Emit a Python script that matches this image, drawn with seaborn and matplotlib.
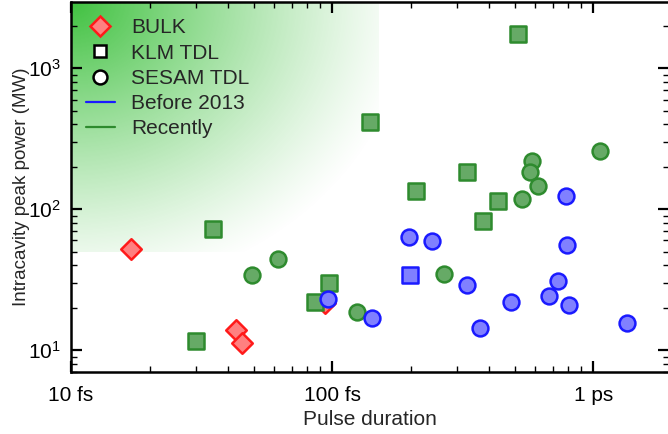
import numpy as np
import pandas as pd
import matplotlib
matplotlib.use("Agg")
import matplotlib.pyplot as plt
import seaborn as sns
from matplotlib.lines import Line2D
from matplotlib.ticker import FixedLocator, FixedFormatter, LogLocator, NullFormatter

# pulse duration (fs) / intracavity peak power (MW)
bulk_fs = [17.0, 42.9, 45.2, 94]
bulk_mw = [52, 13.9, 11.2, 21.5]

klm_recent_fs = [30.1, 35.0, 86, 97.5, 140, 210, 329, 433, 379, 516]
klm_recent_mw = [11.6, 72, 21.9, 29.9, 414, 134, 183, 114, 82, 1742]
klm_old_fs = [199]
klm_old_mw = [34]

sesam_recent_fs = [49.4, 62, 125, 268, 535, 584, 574, 615, 1064]
sesam_recent_mw = [34, 44, 18.6, 34.6, 118, 219, 183, 146, 258]
sesam_old_fs = [96.6, 142, 197, 241, 329, 369, 485, 678, 735, 794, 809, 788, 1349]
sesam_old_mw = [23, 16.9, 63, 59, 28.9, 14.3, 21.9, 24.2, 30.8, 55.6, 20.8, 124, 15.5]

x_ticks = [10, 100, 1000]
x_ticklabels = ["10 fs", "100 fs", "1 ps"]

sns.set_theme(style="white")
plt.rcParams["font.family"] = ["Liberation Sans", "DejaVu Sans"]
plt.rcParams["mathtext.fontset"] = "custom"
plt.rcParams["mathtext.rm"] = "Liberation Sans"

FS = 15

fig = plt.figure(figsize=(6.68, 4.34), dpi=100)
ax = fig.add_axes([71 / 668, 1 - 372 / 434, 598 / 668, 370 / 434])
ax.set_xscale("log")
ax.set_yscale("log")
ax.set_xlim(10, 1950)
ax.set_ylim(7.0, 2950)

# green gradient in the top-left corner
nx, ny = 300, 300
gx, gy = np.meshgrid(np.linspace(0, 1, nx), np.linspace(0, 1, ny))
r = np.sqrt((gx * 0.9) ** 2 + (gy * 0.85) ** 2)
alpha = np.clip(1.0 - r, 0, 1) ** 1.2
img = np.zeros((ny, nx, 4))
img[..., 0] = 0.25
img[..., 1] = 0.76
img[..., 2] = 0.25
img[..., 3] = alpha
ax.imshow(img, extent=[0, 0.514, 0.324, 1.0], transform=ax.transAxes,
          aspect="auto", zorder=0, interpolation="bilinear")

frames = []
def add(fs, mw, kind, era):
    frames.append(pd.DataFrame({"fs": fs, "mw": mw, "kind": kind, "era": era}))

add(bulk_fs, bulk_mw, "BULK", "bulk")
add(klm_recent_fs, klm_recent_mw, "KLM TDL", "Recently")
add(klm_old_fs, klm_old_mw, "KLM TDL", "Before 2013")
add(sesam_recent_fs, sesam_recent_mw, "SESAM TDL", "Recently")
add(sesam_old_fs, sesam_old_mw, "SESAM TDL", "Before 2013")
df = pd.concat(frames, ignore_index=True)

face = {"bulk": "#ff8080", "Recently": "#66aa66", "Before 2013": "#8080ff"}
edge = {"bulk": "#ff1a1a", "Recently": "#2e8b2e", "Before 2013": "#1a1aff"}
marker = {"BULK": "D", "KLM TDL": "s", "SESAM TDL": "o"}
size = {"BULK": 110, "KLM TDL": 120, "SESAM TDL": 130}

for (kind, era), g in df.groupby(["kind", "era"], sort=False):
    sns.scatterplot(data=g, x="fs", y="mw", ax=ax, marker=marker[kind],
                    s=size[kind], color=face[era], edgecolor=edge[era],
                    linewidth=1.8, legend=False, zorder=3)

ax.xaxis.set_major_locator(FixedLocator(x_ticks))
ax.xaxis.set_major_formatter(FixedFormatter(x_ticklabels))
ax.xaxis.set_minor_locator(LogLocator(base=10, subs=np.arange(2, 10)))
ax.xaxis.set_minor_formatter(NullFormatter())
ax.yaxis.set_major_locator(LogLocator(base=10))
ax.yaxis.set_minor_locator(LogLocator(base=10, subs=np.arange(2, 10)))
ax.yaxis.set_minor_formatter(NullFormatter())

ax.tick_params(which="both", direction="in", top=True, right=True,
               bottom=True, left=True, colors="black")
ax.tick_params(which="major", length=8, width=1.6, labelsize=FS)
ax.tick_params(axis="x", which="major", pad=10)
ax.tick_params(axis="y", which="major", pad=7)
ax.tick_params(which="minor", length=4, width=1.0)
for s in ax.spines.values():
    s.set_linewidth(1.8)
    s.set_color("black")

ax.set_xlabel("Pulse duration", fontsize=FS, labelpad=4)
ax.set_ylabel("Intracavity peak power (MW)", fontsize=13.5, labelpad=-1)

handles = [
    Line2D([], [], ls="none", marker="D", ms=10, mfc="#ff8080", mec="#ff1a1a", mew=1.8),
    Line2D([], [], ls="none", marker="s", ms=9, mfc="white", mec="black", mew=1.8),
    Line2D([], [], ls="none", marker="o", ms=10, mfc="white", mec="black", mew=1.8),
    Line2D([], [], color="#1a1aff", lw=1.6),
    Line2D([], [], color="#2e8b2e", lw=1.6),
]
labels = ["BULK", "KLM TDL", "SESAM TDL", "Before 2013", "Recently"]
ax.legend(handles, labels, loc="upper left", frameon=False, fontsize=FS,
          handlelength=1.4, handletextpad=0.8, labelspacing=0.3,
          borderaxespad=0.3, bbox_to_anchor=(0.0, 0.995))

fig.savefig("out.png", dpi=100)
